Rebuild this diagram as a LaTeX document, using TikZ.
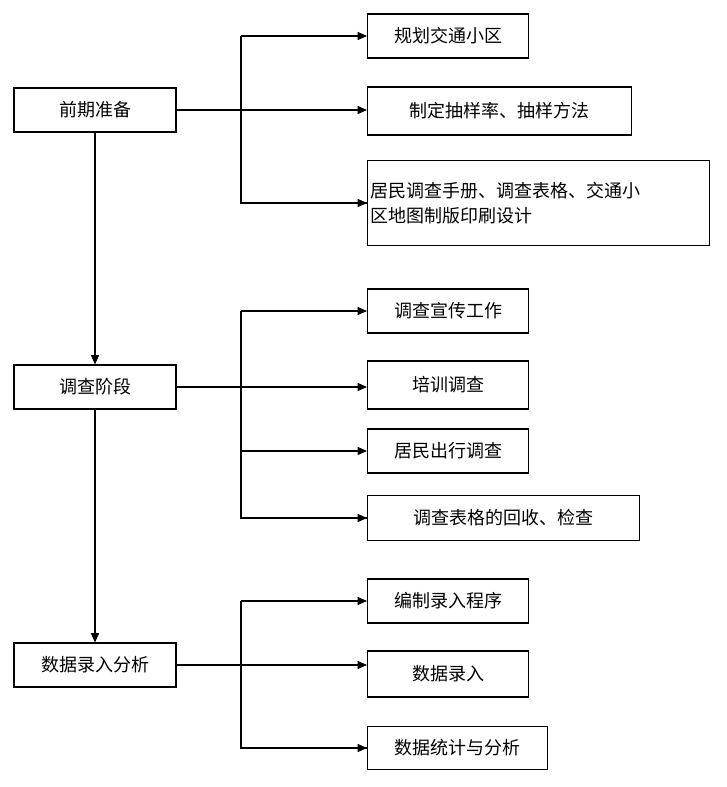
\documentclass[tikz,border=0pt]{standalone}
\usepackage{fontspec}
\newfontfamily\cjk{Noto Sans CJK SC}
\usetikzlibrary{arrows.meta, positioning}
\tikzset{
  stagebox/.style={draw,thick,minimum width=162*0.75pt,minimum height=44*0.75pt,inner sep=0pt},
  taskbox/.style={draw,thick,minimum height=44*0.75pt,inner sep=2pt,anchor=west},
  link/.style={thick,-{Triangle[length=7pt,width=6pt]}}
}
\begin{document}
\begin{tikzpicture}[x=0.75pt,y=-0.75pt,font=\cjk\fontsize{13.5}{19}\selectfont]
  \useasboundingbox (0,0) rectangle (726,787);

  % --- Stage boxes (left column) ---
  \node[stagebox] (prep) at (95,110) {前期准备};
  \node[stagebox] (survey) at (95,387) {调查阶段};
  \node[stagebox] (data) at (95,665) {数据录入分析};

  % --- Task boxes (right column) ---
  \node[taskbox,minimum width=161*0.75pt] (zone) at (367,36) {规划交通小区};
  \node[taskbox,minimum width=264*0.75pt,minimum height=48*0.75pt] (rate) at (367,111) {制定抽样率、抽样方法};
  \node[taskbox,text width=337*0.75pt,minimum height=85*0.75pt,align=left,inner sep=2pt] (manual) at (367,203)
    {居民调查手册、调查表格、交通小\\区地图制版印刷设计};
  \node[taskbox,minimum width=161*0.75pt] (promo) at (367,311) {调查宣传工作};
  \node[taskbox,minimum width=161*0.75pt,minimum height=48*0.75pt] (train) at (367,385) {培训调查};
  \node[taskbox,minimum width=161*0.75pt] (trip) at (367,451) {居民出行调查};
  \node[taskbox,minimum width=272*0.75pt,minimum height=45*0.75pt] (collect) at (367,518) {调查表格的回收、检查};
  \node[taskbox,minimum width=161*0.75pt] (prog) at (367,601) {编制录入程序};
  \node[taskbox,minimum width=161*0.75pt,minimum height=46*0.75pt] (entry) at (367,674) {数据录入};
  \node[taskbox,minimum width=180*0.75pt,minimum height=43*0.75pt] (stat) at (367,748) {数据统计与分析};

  % --- Buses ---
  \coordinate (b1) at (241,36);
  \coordinate (b2) at (241,311);
  \coordinate (b3) at (241,601);
  \draw[thick] (b1) |- (manual.west);
  \draw[thick] (b2) |- (collect.west);
  \draw[thick] (b3) |- (stat.west);

  % --- Arrows ---
  \draw[link] (b1) -- (zone.west);
  \draw[link] (prep.east) -- (prep.east -| rate.west);
  \draw[link] (241,203) -- (manual.west);
  \draw[link] (b2) -- (promo.west);
  \draw[link] (survey.east) -- (survey.east -| train.west);
  \draw[link] (241,451) -- (trip.west);
  \draw[link] (241,518) -- (collect.west);
  \draw[link] (b3) -- (prog.west);
  \draw[link] (data.east) -- (data.east -| entry.west);
  \draw[link] (241,748) -- (stat.west);
  \draw[link] (prep) -- (survey);
  \draw[link] (survey) -- (data);
\end{tikzpicture}
\end{document}
